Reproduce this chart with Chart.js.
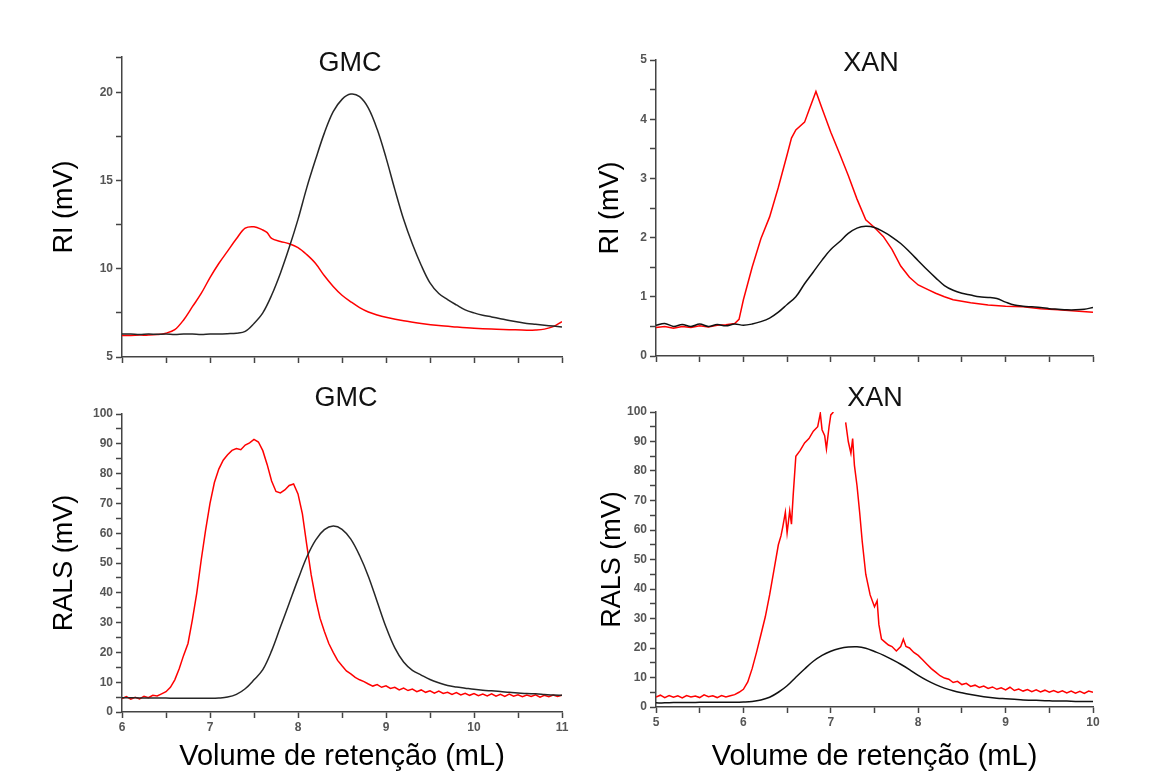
<!DOCTYPE html>
<html lang="pt">
<head>
<meta charset="utf-8">
<title>GMC / XAN - RI e RALS</title>
<script src="https://cdn.jsdelivr.net/npm/chart.js@4.4.1/dist/chart.umd.min.js"></script>
<style>
  html, body { margin: 0; padding: 0; background: #fff; }
  #page { position: relative; width: 1166px; height: 774px; overflow: hidden; font-family: 'Liberation Sans', Arial, sans-serif; }
  .panel { position: absolute; width: 583px; height: 387px; }
  .ptitle { position: absolute; font-size: 27px; color: #111; transform: translate(-50%, -50%); white-space: nowrap; }
</style>
</head>
<body>
<div id="page">
  <canvas id="riGmc" class="panel" width="583" height="387" style="left:0;top:0"></canvas>
  <canvas id="riXan" class="panel" width="583" height="387" style="left:583px;top:0"></canvas>
  <canvas id="ralsGmc" class="panel" width="583" height="387" style="left:0;top:387px"></canvas>
  <canvas id="ralsXan" class="panel" width="583" height="387" style="left:583px;top:387px"></canvas>
  <div class="ptitle" style="left:350px;top:62px">GMC</div>
  <div class="ptitle" style="left:871px;top:62px">XAN</div>
  <div class="ptitle" style="left:346px;top:397px">GMC</div>
  <div class="ptitle" style="left:875px;top:397px">XAN</div>
</div>

<script>
// Data
// ===============================

// shared x grids (mL), 0.1 step
const gmcX = [6.0,6.1,6.2,6.3,6.4,6.5,6.6,6.7,6.8,6.9,7.0,7.1,7.2,7.3,7.4,7.5,7.6,7.7,7.8,7.9,
  8.0,8.1,8.2,8.3,8.4,8.5,8.6,8.7,8.8,8.9,9.0,9.1,9.2,9.3,9.4,9.5,9.6,9.7,9.8,9.9,
  10.0,10.1,10.2,10.3,10.4,10.5,10.6,10.7,10.8,10.9,11.0];
const xanX = [5.0,5.1,5.2,5.3,5.4,5.5,5.6,5.7,5.8,5.9,6.0,6.1,6.2,6.3,6.4,6.5,6.6,6.7,6.8,6.9,
  7.0,7.1,7.2,7.3,7.4,7.5,7.6,7.7,7.8,7.9,8.0,8.1,8.2,8.3,8.4,8.5,8.6,8.7,8.8,8.9,
  9.0,9.1,9.2,9.3,9.4,9.5,9.6,9.7,9.8,9.9,10.0];

// GMC - RI (mV)
const riGmcBlack = [6.30,6.30,6.28,6.30,6.29,6.30,6.28,6.30,6.30,6.28,6.30,6.30,6.32,6.35,6.45,6.90,7.50,8.50,9.75,11.20,
  12.80,14.60,16.20,17.70,18.90,19.60,19.90,19.75,19.10,17.90,16.30,14.50,12.80,11.40,10.20,9.20,8.60,8.25,7.95,7.67,
  7.50,7.37,7.27,7.17,7.07,6.98,6.90,6.85,6.80,6.75,6.70];
const riGmcRedX = [6.0,6.1,6.2,6.3,6.4,6.5,6.6,6.7,6.8,6.9,7.0,7.1,7.2,7.3,7.4,7.5,7.6,7.65,7.7,7.8,7.9,
  8.0,8.1,8.2,8.3,8.4,8.5,8.6,8.7,8.8,8.9,9.0,9.2,9.4,9.6,9.8,10.0,10.2,10.4,10.6,10.7,10.8,10.9,11.0];
const riGmcRed = [6.22,6.22,6.24,6.24,6.27,6.35,6.55,7.10,7.85,8.60,9.50,10.30,11.00,11.70,12.30,12.38,12.20,12.05,11.72,11.55,11.42,
  11.20,10.80,10.30,9.60,9.00,8.50,8.13,7.80,7.55,7.38,7.25,7.05,6.90,6.78,6.70,6.63,6.58,6.55,6.52,6.53,6.58,6.72,7.00];

// XAN - RI (mV)
const riXanBlack = [0.52,0.55,0.50,0.53,0.50,0.54,0.50,0.53,0.51,0.54,0.52,0.54,0.58,0.64,0.74,0.87,1.00,1.22,1.42,1.62,
  1.80,1.93,2.07,2.16,2.19,2.17,2.10,2.01,1.90,1.76,1.61,1.46,1.32,1.19,1.11,1.06,1.03,1.00,0.99,0.97,
  0.91,0.86,0.84,0.83,0.82,0.80,0.79,0.78,0.78,0.79,0.82];
const riXanRedX = [5.0,5.1,5.2,5.3,5.4,5.5,5.6,5.7,5.8,5.9,
  5.95,6.0,6.1,6.2,6.3,6.4,6.5,6.55,6.6,6.7,6.75,6.83,6.9,
  7.0,7.1,7.2,7.3,7.4,7.5,7.6,7.7,7.8,7.9,
  8.0,8.1,8.2,8.3,8.4,
  8.6,8.8,9.0,9.2,9.4,9.6,9.8,10.0];
const riXanRed = [0.48,0.50,0.47,0.50,0.48,0.51,0.49,0.52,0.53,0.55,
  0.62,0.95,1.50,1.98,2.35,2.85,3.40,3.68,3.82,3.95,4.15,4.47,4.18,
  3.78,3.42,3.05,2.65,2.30,2.17,2.02,1.80,1.52,1.33,
  1.20,1.13,1.06,1.00,0.95,
  0.90,0.86,0.84,0.83,0.80,0.78,0.76,0.74];

// GMC - RALS (mV)
const ralsGmcBlack = [4.8,4.8,4.7,4.7,4.7,4.7,4.6,4.6,4.6,4.6,
  4.6,4.7,5.0,5.9,7.8,10.8,14.2,20.5,28.5,36.5,
  44.5,52.0,57.7,61.2,62.4,61.3,58.0,52.5,45.5,37.0,
  28.5,21.5,16.8,14.0,12.4,10.9,9.8,8.9,8.4,8.0,
  7.6,7.3,7.1,6.9,6.6,6.4,6.2,6.1,5.9,5.7,5.6];
const ralsGmcRedX = [6.00,6.05,6.10,6.15,6.20,6.25,6.30,6.35,6.40,6.45,6.50,6.55,6.60,6.65,6.70,6.75,6.80,6.85,6.90,6.95,
  7.00,7.05,7.10,7.15,7.20,7.25,7.30,7.35,7.40,7.45,7.50,7.55,7.60,7.65,7.70,7.75,7.80,7.85,7.90,7.95,
  8.00,8.05,8.10,8.15,8.20,8.25,8.30,8.35,8.40,8.45,8.50,8.55,8.60,8.65,8.70,8.75,8.80,8.85,8.90,8.95,
  9.00,9.05,9.10,9.15,9.20,9.25,9.30,9.35,9.40,9.45,9.50,9.55,9.60,9.65,9.70,9.75,9.80,9.85,9.90,9.95,
  10.00,10.05,10.10,10.15,10.20,10.25,10.30,10.35,10.40,10.45,10.50,10.55,10.60,10.65,10.70,10.75,10.80,10.85,10.90,10.95,11.00];
const ralsGmcRed = [4.5,5.2,4.3,4.9,4.4,5.3,4.8,5.6,5.4,6.1,6.8,8.3,10.8,14.5,19.0,23.0,31.0,40.0,51.0,61.0,
  70.0,77.0,81.5,84.5,86.3,87.8,88.4,88.0,89.6,90.3,91.5,90.6,87.7,83.0,77.5,74.0,73.5,74.5,76.0,76.5,
  73.2,66.5,56.0,46.0,38.0,31.5,27.0,23.0,20.0,17.3,15.5,13.8,12.8,11.6,10.8,10.2,9.4,8.7,9.2,8.3,
  8.8,7.9,8.3,7.4,8.0,7.2,7.7,6.8,7.4,6.6,7.1,6.3,7.0,6.2,6.6,5.9,6.5,5.7,6.3,5.6,
  6.2,5.5,6.0,5.4,6.1,5.3,5.9,5.2,6.0,5.3,5.8,5.1,5.7,5.2,5.8,5.0,5.6,5.1,5.7,5.2,5.6];

// XAN - RALS (mV); null = detector saturated above 100
const ralsXanBlack = [1.4,1.4,1.5,1.5,1.5,1.6,1.6,1.6,1.6,1.6,
  1.7,1.9,2.4,3.3,5.0,7.2,10.1,12.9,15.5,17.5,
  18.9,19.8,20.3,20.4,19.9,18.8,17.6,16.1,14.5,12.7,
  10.7,9.0,7.6,6.4,5.5,4.8,4.2,3.7,3.3,3.0,
  2.8,2.6,2.4,2.3,2.2,2.1,2.0,2.0,1.9,1.9,1.9];
const ralsXanRedX = [5.00,5.05,5.10,5.15,5.20,5.25,5.30,5.35,5.40,5.45,5.50,5.55,5.60,5.65,5.70,5.75,5.80,5.85,5.90,5.95,
  6.00,6.05,6.10,6.15,6.20,6.25,6.30,6.35,6.40,
  6.43,6.45,6.48,6.50,6.53,6.55,6.57,
  6.60,6.65,6.70,6.75,6.80,6.85,
  6.88,6.90,6.93,6.95,6.98,7.00,7.03,
  7.10,
  7.17,7.20,7.23,7.25,7.27,7.30,7.33,7.36,7.40,7.45,7.50,7.53,7.55,7.58,7.62,7.66,7.70,7.75,7.80,7.83,7.86,7.90,7.95,
  8.00,8.05,8.10,8.15,8.20,8.25,8.30,8.35,8.40,8.45,8.50,8.55,8.60,8.65,8.70,8.75,8.80,8.85,8.90,8.95,
  9.00,9.05,9.10,9.15,9.20,9.25,9.30,9.35,9.40,9.45,9.50,9.55,9.60,9.65,9.70,9.75,9.80,9.85,9.90,9.95,10.00];
const ralsXanRed = [3.4,4.0,3.2,3.9,3.3,3.8,3.1,3.9,3.4,3.7,3.2,4.1,3.5,3.8,3.2,3.9,3.4,3.8,4.2,5.0,
  6.0,8.5,13.0,18.5,24.5,30.5,38.0,46.5,55.0,
  58.0,61.0,66.0,59.0,66.5,62.0,72.0,
  85.0,87.0,89.5,91.0,93.5,95.0,
  99.5,94.0,92.0,87.5,95.0,99.0,100.0,
  null,
  96.5,90.0,86.0,91.0,82.0,75.0,66.0,56.0,45.0,38.0,34.0,36.0,28.0,23.0,22.0,21.0,20.5,19.0,20.5,23.0,20.5,20.0,18.5,
  17.5,16.0,14.5,13.0,11.8,10.6,9.8,9.4,8.3,8.7,7.6,8.0,7.0,7.4,6.6,7.1,6.3,6.8,6.0,6.5,
  5.8,6.7,5.6,6.1,5.4,5.9,5.2,5.8,5.1,5.7,5.0,5.6,4.9,5.5,4.8,5.4,4.7,5.3,4.6,5.4,5.0];

// Styling
// =======
const FONT = "'Liberation Sans', Arial, sans-serif";
const AXIS = '#444';
const TICK = '#555';
const RED = '#ff0000';
const BLACK = '#262626';

const pts = (xs, ys) => xs.map((x, i) => ({ x: x, y: ys[i] }));

function line(xs, ys, color, smooth) {
    return {
        data: pts(xs, ys),
        borderColor: color,
        borderWidth: 1.5,
        pointRadius: 0,
        tension: smooth ? 0.35 : 0,
        spanGaps: false
    };
}

function xScale(min, max, withLabels, height) {
    return {
        type: 'linear', min: min, max: max, bounds: 'data',
        grid: { drawOnChartArea: false, tickLength: 6, tickColor: AXIS, tickWidth: 1.5 },
        border: { color: AXIS, width: 1.5 },
        ticks: {
            stepSize: 0.5, autoSkip: false, includeBounds: false, maxRotation: 0, padding: 2,
            color: TICK, font: { family: FONT, size: 12, weight: 'bold' },
            callback: v => (withLabels && Number.isInteger(v)) ? v : ''
        },
        title: {
            display: withLabels, text: 'Volume de retenção (mL)', color: '#000',
            font: { family: FONT, size: 29 }, padding: { top: 0, bottom: 0 }
        },
        afterFit: s => { s.height = height; }
    };
}

function yScale(min, max, step, labelEvery, title, width, titlePad) {
    return {
        type: 'linear', min: min, max: max, bounds: 'data',
        grid: { drawOnChartArea: false, tickLength: 6, tickColor: AXIS, tickWidth: 1.5 },
        border: { color: AXIS, width: 1.5 },
        ticks: {
            stepSize: step, autoSkip: false, includeBounds: false, padding: 3,
            color: TICK, font: { family: FONT, size: 12, weight: 'bold' },
            callback: v => (Math.abs(v / labelEvery - Math.round(v / labelEvery)) < 1e-6) ? v : ''
        },
        title: {
            display: true, text: title, color: '#000',
            font: { family: FONT, size: 27 }, padding: { top: titlePad, bottom: 0 }
        },
        afterFit: s => { s.width = width; }
    };
}

function makePanel(id, datasets, x, y, padding) {
    return new Chart(document.getElementById(id), {
        type: 'line',
        data: { datasets: datasets },
        options: {
            responsive: false,
            animation: false,
            layout: { padding: padding },
            plugins: { legend: { display: false }, tooltip: { enabled: false } },
            scales: { x: x, y: y }
        }
    });
}

// Panels
// ======
makePanel('riGmc',
    [line(gmcX, riGmcBlack, BLACK, true), line(riGmcRedX, riGmcRed, RED, true)],
    xScale(6, 11, false, 30),
    yScale(5, 22, 2.5, 5, 'RI (mV)', 122, 48),
    { top: 57, right: 21, bottom: 0, left: 0 });

makePanel('riXan',
    [line(xanX, riXanBlack, '#111', true), line(riXanRedX, riXanRed, RED, false)],
    xScale(5, 10, false, 31),
    yScale(0, 5, 0.5, 1, 'RI (mV)', 73, 11),
    { top: 60, right: 73, bottom: 0, left: 0 });

makePanel('ralsGmc',
    [line(gmcX, ralsGmcBlack, BLACK, true), line(ralsGmcRedX, ralsGmcRed, RED, false)],
    xScale(6, 11, true, 62),
    yScale(0, 100, 5, 10, 'RALS (mV)', 122, 48),
    { top: 27, right: 21, bottom: 0, left: 0 });

makePanel('ralsXan',
    [line(xanX, ralsXanBlack, '#111', true), line(ralsXanRedX, ralsXanRed, RED, false)],
    xScale(5, 10, true, 67),
    yScale(0, 100, 5, 10, 'RALS (mV)', 73, 13),
    { top: 25, right: 73, bottom: 0, left: 0 });
</script>
</body>
</html>
